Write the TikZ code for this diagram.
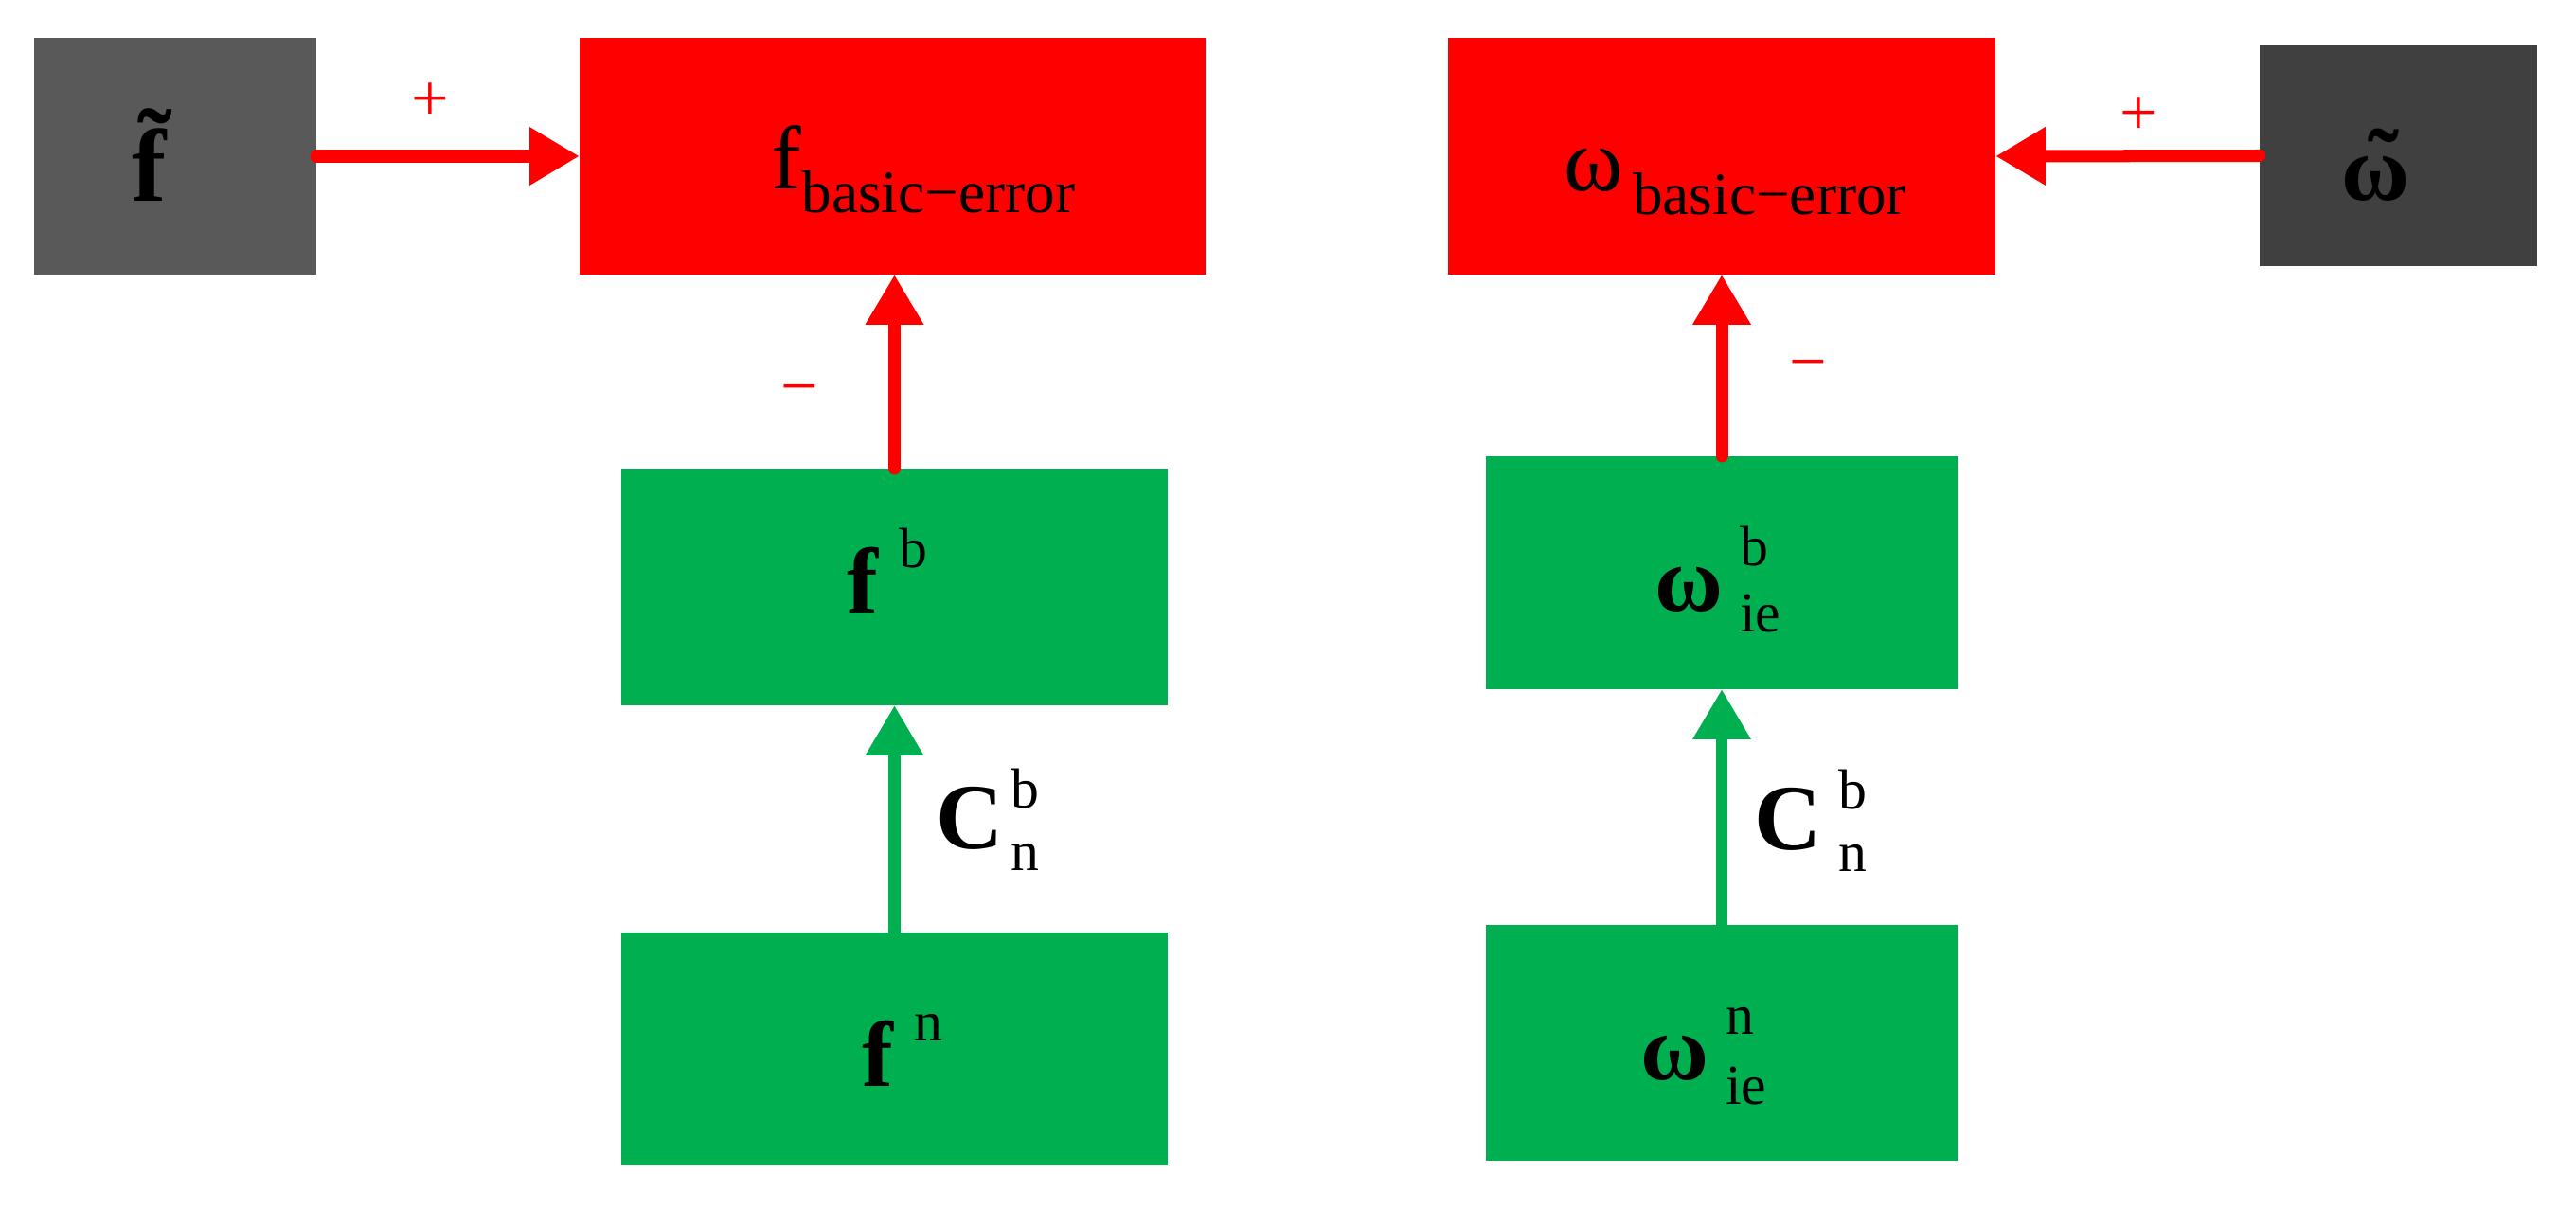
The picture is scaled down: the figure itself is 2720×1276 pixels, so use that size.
\documentclass[tikz,border=0pt]{standalone}
\usepackage{fontspec}
\setmainfont{Liberation Serif}
\usetikzlibrary{arrows.meta}
\definecolor{myred}{HTML}{FF0000}
\definecolor{mygreen}{HTML}{00B050}
\definecolor{grayA}{HTML}{595959}
\definecolor{grayB}{HTML}{404040}
\newcommand\stk[4]{{\fontsize{17}{17}\selectfont\rlap{\raisebox{#1}{#3}}\raisebox{#2}{#4}}}
\newcommand\sbs[1]{\raisebox{-7pt}{\fontsize{18}{18}\selectfont #1}}
\newcommand\sps[2]{\raisebox{#1}{\fontsize{17}{17}\selectfont #2}}
\begin{document}
\begin{tikzpicture}[x=0.01cm,y=-0.01cm,
 box/.style={rectangle,inner sep=0pt,outer sep=0pt,draw=none},
 lbl/.style={inner sep=0pt,outer sep=0pt,anchor=base,text=black},
 big/.style={font=\fontsize{28}{28}\selectfont},
 sgn/.style={inner sep=0pt,outer sep=0pt,anchor=base,text=myred,font=\fontsize{20}{20}\selectfont},
 redarrow/.style={draw=myred,line width=3.7pt,line cap=round,-{Triangle[length=15pt,width=16.5pt]}},
 grnarrow/.style={draw=mygreen,line width=3.5pt,-{Triangle[length=15pt,width=16.5pt]}}]
\useasboundingbox (0,0) rectangle (2720,1276);
% boxes
\node[box,fill=grayA,minimum width=2.98cm,minimum height=2.5cm] (ft) at (185,165) {};
\node[box,fill=myred,minimum width=6.61cm,minimum height=2.5cm] (fr) at (942.5,165) {};
\node[box,fill=mygreen,minimum width=5.77cm,minimum height=2.5cm] (fb) at (944.5,620) {};
\node[box,fill=mygreen,minimum width=5.77cm,minimum height=2.46cm] (fn) at (944.5,1108) {};
\node[box,fill=myred,minimum width=5.78cm,minimum height=2.5cm] (wr) at (1818,165) {};
\node[box,fill=grayB,minimum width=2.93cm,minimum height=2.33cm] (wt) at (2532.5,164.5) {};
\node[box,fill=mygreen,minimum width=4.98cm,minimum height=2.46cm] (wb) at (1818,605) {};
\node[box,fill=mygreen,minimum width=4.98cm,minimum height=2.49cm] (wn) at (1818,1101.5) {};
% connectors
\draw[redarrow] (ft.east) -- (fr.west);
\draw[redarrow] (wt.west) -- (wr.east);
\draw[redarrow] (fb.north) -- (fb.north |- fr.south);
\draw[redarrow] (wb.north) -- (wb.north |- wr.south);
\draw[grnarrow] (fn.north) -- (fb.south);
\draw[grnarrow] (wn.north) -- (wb.south);
% labels
\node[lbl,font=\fontsize{31}{31}\selectfont] (lft) at (176,213) {\textbf{\~{f}}};
\node[lbl,font=\fontsize{27}{27}\selectfont] (lfr) at (975,200) {f\sbs{basic−error}};
\node[lbl,font=\fontsize{27}{27}\selectfont] (lwr) at (1832,202) {ω\kern3pt\sbs{basic−error}};
\node[lbl,big] (lwt) at (2508,212) {\textbf{\ooalign{ω\cr\hidewidth\kern5pt\raisebox{2pt}{\char"02DC}\hidewidth\cr}}};
\node[lbl,big] (lfb) at (937,647) {\textbf{f}\kern6pt\sps{13.6pt}{b}};
\node[lbl,big] (lfn) at (953,1147) {\textbf{f}\kern6pt\sps{13.4pt}{n}};
\node[lbl,big] (lwb) at (1814,645) {\textbf{ω}\kern5pt\stk{13.6pt}{-6.5pt}{b}{ie}};
\node[lbl,big] (lwn) at (1799,1140) {\textbf{ω}\kern5pt\stk{13.4pt}{-7.4pt}{n}{ie}};
\node[lbl,big] (c1) at (1043,896) {\textbf{C}\kern2pt\stk{12pt}{-6.8pt}{b}{n}};
\node[lbl,big] (c2) at (1912,897) {\textbf{C}\kern5pt\stk{12pt}{-6.8pt}{b}{n}};
% signs
\node[sgn] (p1) at (454,128) {+};
\node[sgn] (m1) at (844,431) {−};
\node[sgn] (p2) at (2258,143) {+};
\node[sgn] (m2) at (1909,406) {−};
\end{tikzpicture}
\end{document}
